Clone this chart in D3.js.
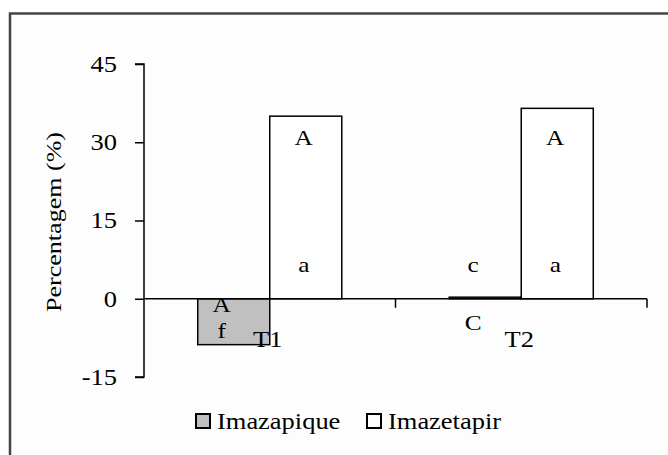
<!DOCTYPE html>
<html>
<head>
<meta charset="utf-8">
<script src="https://cdn.jsdelivr.net/npm/d3@7"></script>
<style>
  html, body { margin: 0; padding: 0; background: #fff; }
  svg { display: block; }
  text { font-family: "Liberation Serif", "Times New Roman", serif; fill: #000; }
</style>
</head>
<body>
<svg id="chart" width="668" height="455"></svg>
<script>
// data
const categories = ["T1", "T2"];
const series = ["Imazapique", "Imazetapir"];
const imazapique = [-8.8, 0.3];
const imazetapir = [35.0, 36.5];
const upperLetters = { Imazapique: ["A", "C"], Imazetapir: ["A", "A"] };
const lowerLetters = { Imazapique: ["f", "c"], Imazetapir: ["a", "a"] };
const yTicks = [-15, 0, 15, 30, 45];

// where the letters sit, in data units
const upperY = { Imazapique: [-2.6, -5.9], Imazetapir: [29.5, 29.5] };
const lowerY = { Imazapique: [-7.5, 5.2], Imazetapir: [5.2, 5.2] };
const letterDx = { Imazapique: -12, Imazetapir: -2 };

const fills = { Imazapique: "#c0c0c0", Imazetapir: "#ffffff" };
const values = { Imazapique: imazapique, Imazetapir: imazetapir };
const stretch = 1.15; // the source font is wider than Times

let svg = d3.select("#chart");

// outer frame (cut off at right and bottom)
svg.append("rect")
  .attr("x", 10).attr("y", 13.5)
  .attr("width", 700).attr("height", 500)
  .attr("fill", "#fdfdfd")
  .attr("stroke", "#444").attr("stroke-width", 2.5);

let x = d3.scaleBand().domain(categories).range([144, 647]);
let x1 = d3.scaleBand().domain(series).range([0, x.bandwidth()]).paddingInner(0).paddingOuter(0.746);
let y = d3.scaleLinear().domain([-15, 45]).range([377, 64]);

// bars
let g = svg.append("g");
series.forEach(s => {
  g.selectAll(null)
    .data(categories)
    .enter()
    .append("rect")
    .attr("x", (d) => x(d) + x1(s))
    .attr("width", x1.bandwidth())
    .attr("y", (d, i) => y(Math.max(0, values[s][i])))
    .attr("height", (d, i) => Math.abs(y(values[s][i]) - y(0)))
    .attr("fill", fills[s])
    .attr("stroke", "#000")
    .attr("stroke-width", 1.5);
});

// y axis
let yAxis = svg.append("g")
  .attr("transform", "translate(144,0)")
  .call(d3.axisLeft(y).tickValues(yTicks).tickSize(9).tickPadding(18).tickFormat(d => String(d)));
yAxis.select(".domain").attr("stroke", "#000").attr("stroke-width", 1.5).attr("d", "M-9," + y(45) + "H0V" + y(-15) + "H-9");
yAxis.selectAll(".tick line").attr("stroke", "#000").attr("stroke-width", 1.5);
yAxis.selectAll(".tick text").attr("font-size", 23).attr("font-family", "Liberation Serif");

// x axis at zero, ticks between categories
let xAxis = svg.append("g").attr("transform", "translate(0," + y(0) + ")");
xAxis.append("line").attr("x1", 144).attr("x2", 647).attr("stroke", "#000").attr("stroke-width", 1.5);
xAxis.selectAll(".xt")
  .data(categories)
  .enter()
  .append("line")
  .attr("x1", d => x(d) + x.bandwidth()).attr("x2", d => x(d) + x.bandwidth())
  .attr("y1", 0).attr("y2", 9)
  .attr("stroke", "#000").attr("stroke-width", 1.5);

// category labels
svg.selectAll(".cat")
  .data(categories)
  .enter()
  .append("text")
  .attr("class", "cat")
  .attr("x", d => x(d) + x.bandwidth() / 2 - 2)
  .attr("y", 347)
  .attr("text-anchor", "middle")
  .attr("font-size", 23)
  .text(d => d);

// letters
series.forEach(s => {
  [[upperLetters, upperY], [lowerLetters, lowerY]].forEach(([letters, ys]) => {
    svg.selectAll(null)
      .data(categories)
      .enter()
      .append("text")
      .attr("x", d => x(d) + x1(s) + x1.bandwidth() / 2 + letterDx[s])
      .attr("y", (d, i) => y(ys[s][i]))
      .attr("text-anchor", "middle")
      .attr("font-size", 22)
      .text((d, i) => letters[s][i]);
  });
});

// legend
let legendX = [196, 367];
let leg = svg.append("g");
series.forEach((s, i) => {
  leg.append("rect")
    .attr("x", legendX[i]).attr("y", 414)
    .attr("width", 14).attr("height", 14)
    .attr("fill", fills[s]).attr("stroke", "#000").attr("stroke-width", 2);
  leg.append("text")
    .attr("x", legendX[i] + 21).attr("y", 429)
    .attr("font-size", 23)
    .text(s);
});

// widen all text to match the source font
svg.selectAll("text").each(function () {
  let w = this.getComputedTextLength();
  d3.select(this).attr("textLength", w * stretch).attr("lengthAdjust", "spacingAndGlyphs");
});

// y title, stretched along its length
svg.append("text")
  .attr("transform", "translate(61,222) rotate(-90)")
  .attr("text-anchor", "middle")
  .attr("font-size", 22)
  .attr("textLength", 180)
  .attr("lengthAdjust", "spacingAndGlyphs")
  .text("Percentagem (%)");
</script>
</body>
</html>
